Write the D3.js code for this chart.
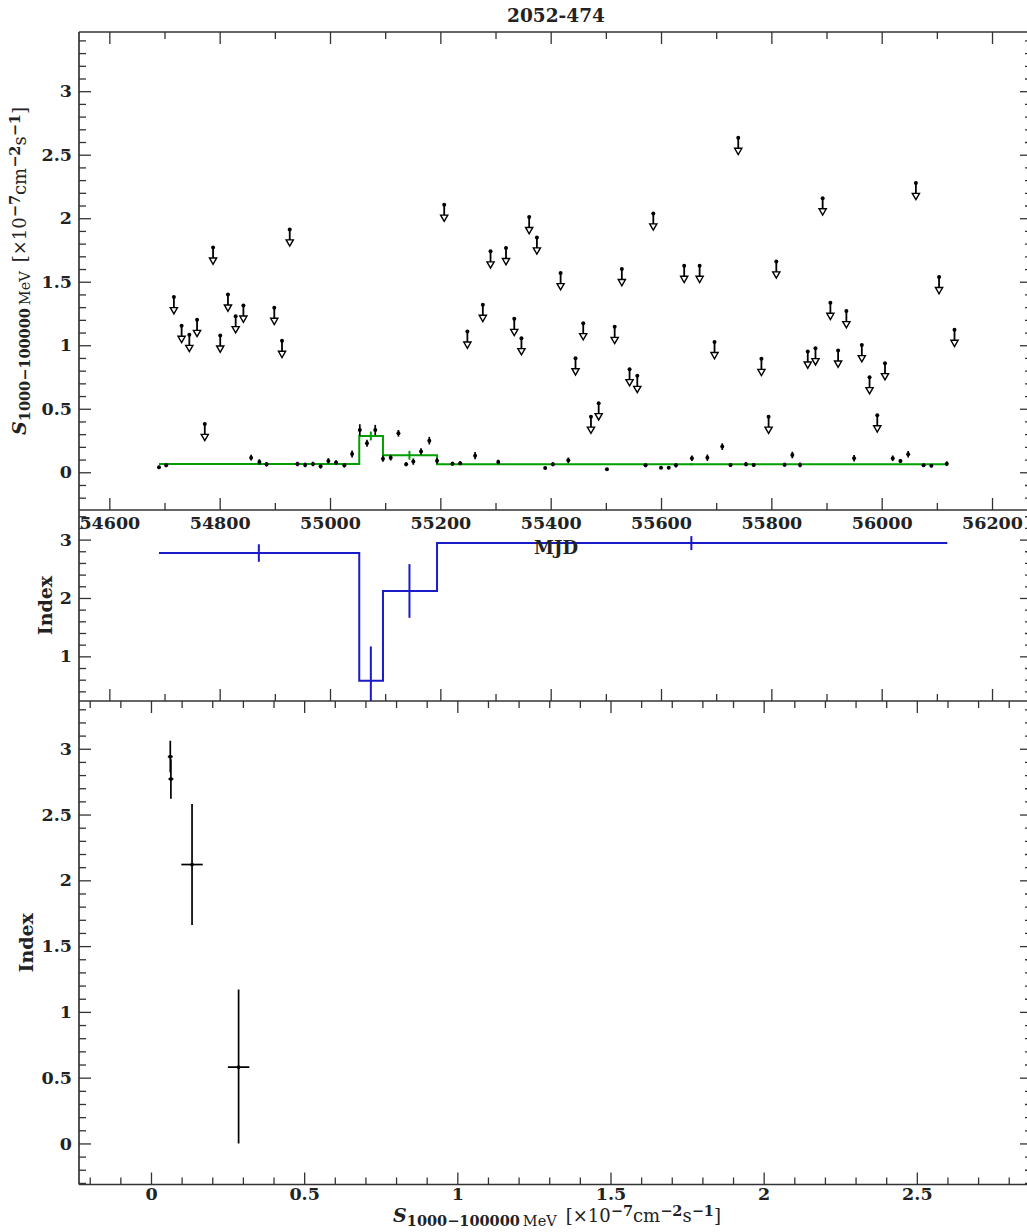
<!DOCTYPE html>
<html>
<head>
<meta charset="utf-8">
<script src="https://cdn.jsdelivr.net/npm/d3@7"></script>
<style>
  body { margin: 0; background: #fff; }
  svg { display: block; }
  text { font-family: "DejaVu Serif", serif; fill: #222; }
</style>
</head>
<body>
<svg id="chart" width="1027" height="1232"></svg>
<script>
// ---- Light curve, 14-day bins: detections (flux with error) ----
const detMJD = [54690, 54703, 54857, 54872, 54885, 54941, 54955, 54969, 54983, 54997,
  55011, 55026, 55040, 55054, 55067, 55082, 55096, 55110, 55124, 55138,
  55151, 55165, 55180, 55194, 55222, 55236, 55263, 55305, 55390, 55404,
  55432, 55502, 55572, 55600, 55614, 55627, 55656, 55684, 55711, 55726,
  55754, 55768, 55824, 55838, 55852, 55950, 56020, 56034, 56048, 56076,
  56090, 56118];
const detFlux = [0.039, 0.055, 0.115, 0.081, 0.063, 0.065, 0.058, 0.065, 0.047, 0.089,
  0.076, 0.055, 0.144, 0.333, 0.228, 0.333, 0.107, 0.115, 0.307, 0.063,
  0.084, 0.163, 0.249, 0.091, 0.068, 0.071, 0.131, 0.081, 0.034, 0.063,
  0.094, 0.024, 0.055, 0.036, 0.036, 0.055, 0.110, 0.115, 0.202, 0.058,
  0.063, 0.058, 0.060, 0.136, 0.058, 0.110, 0.110, 0.089, 0.142, 0.055,
  0.052, 0.068];
const detErr = [0.012, 0.015, 0.022, 0.022, 0.018, 0.018, 0.018, 0.018, 0.018, 0.022,
  0.018, 0.018, 0.028, 0.045, 0.028, 0.040, 0.025, 0.022, 0.026, 0.015,
  0.025, 0.026, 0.030, 0.022, 0.015, 0.015, 0.028, 0.018, 0.000, 0.015,
  0.022, 0.000, 0.015, 0.010, 0.010, 0.018, 0.022, 0.025, 0.026, 0.015,
  0.015, 0.015, 0.015, 0.026, 0.018, 0.025, 0.022, 0.015, 0.026, 0.012,
  0.012, 0.018];

// ---- Light curve: upper limits ----
const ulMJD = [54717, 54731, 54745, 54759, 54773, 54788, 54801, 54815, 54829, 54843,
  54899, 54913, 54927, 55207, 55249, 55277, 55291, 55319, 55334, 55347,
  55361, 55375, 55418, 55445, 55459, 55473, 55487, 55516, 55529, 55543,
  55557, 55586, 55642, 55670, 55697, 55740, 55782, 55795, 55809, 55866,
  55880, 55893, 55907, 55921, 55936, 55964, 55978, 55992, 56006, 56062,
  56104, 56132];
const ulFlux = [1.379, 1.153, 1.082, 1.200, 0.381, 1.770, 1.077, 1.400, 1.229, 1.313,
  1.295, 1.035, 1.912, 2.107, 1.108, 1.319, 1.739, 1.765, 1.208, 1.056,
  2.010, 1.849, 1.568, 0.898, 1.174, 0.438, 0.544, 1.145, 1.600, 0.812,
  0.759, 2.038, 1.626, 1.626, 1.025, 2.633, 0.893, 0.438, 1.660, 0.951,
  0.977, 2.157, 1.334, 0.959, 1.269, 1.001, 0.749, 0.449, 0.859, 2.278,
  1.537, 1.122];

// ---- Bayesian blocks ----
const blockStart = [54690, 55053, 55096, 55194];
const blockEnd = [55053, 55096, 55194, 56119];
const blockMid = [54871, 55074, 55144, 55655];
const blockFlux = [0.065, 0.286, 0.134, 0.063];
const blockFluxErr = [0.008, 0.035, 0.035, 0.008];
const blockIndex = [2.77, 0.58, 2.12, 2.94];
const blockIndexLo = [0.15, 0.58, 0.46, 0.12];
const blockIndexHi = [0.15, 0.59, 0.46, 0.12];

// ---- Tick labels ----
const mjdTicks = [54600, 54800, 55000, 55200, 55400, 55600, 55800, 56000, 56200];
const mjdMinor = [54700, 54900, 55100, 55300, 55500, 55700, 55900, 56100];
const fluxTicks = [0, 0.5, 1, 1.5, 2, 2.5, 3];
const midIndexTicks = [1, 2, 3];
const botIndexTicks = [0, 0.5, 1, 1.5, 2, 2.5, 3];
const botFluxTicks = [0, 0.5, 1, 1.5, 2, 2.5];

const title = "2052-474";

// ---- Layout ----
const L = 79, R = 1026.5, RF = 1027;
const P1 = { top: 32, bottom: 510 };
const P2 = { top: 510, bottom: 701 };
const P3 = { top: 701, bottom: 1184.5 };
const frameColor = "#333";
const tickFont = 17.5;

const svg = d3.select("#chart");

const xMJD = d3.scaleLinear().domain([54545, 56262.5]).range([L, R]);
const yFlux = d3.scaleLinear().domain([-0.297, 3.466]).range([P1.bottom, P1.top]);
const yIdxMid = d3.scaleLinear().domain([0.235, 3.507]).range([P2.bottom, P2.top]);
const yIdxBot = d3.scaleLinear().domain([-0.312, 3.363]).range([P3.bottom, P3.top]);
const xFluxBot = d3.scaleLinear().domain([-0.235, 2.858]).range([L, R]);

function minorsBetween(lo, hi, step, majors) {
  return d3.range(Math.round(lo / step), Math.round(hi / step) + 1)
    .map(k => +(k * step).toFixed(4))
    .filter(v => !majors.some(m => Math.abs(m - v) < 1e-6));
}

const fmt = d => String(d);

// generic inward-tick axis: major + minor ticks
function axis(maker, transform, scale, major, minor, majLen, minLen, labels, pad) {
  const gMaj = svg.append("g").attr("transform", transform)
    .call(maker(scale).tickValues(major).tickSize(-majLen).tickSizeOuter(0)
      .tickPadding(pad || 0).tickFormat(labels ? fmt : ""));
  gMaj.select(".domain").remove();
  gMaj.selectAll(".tick line").attr("stroke", frameColor).attr("stroke-width", 1.3);
  gMaj.selectAll(".tick text").attr("font-size", tickFont).attr("font-weight", "bold")
    .attr("font-family", "DejaVu Serif, serif").attr("fill", "#222");
  const gMin = svg.append("g").attr("transform", transform)
    .call(maker(scale).tickValues(minor).tickSize(-minLen).tickSizeOuter(0).tickFormat(""));
  gMin.select(".domain").remove();
  gMin.selectAll(".tick line").attr("stroke", frameColor).attr("stroke-width", 1.3);
  return gMaj;
}

// ---- Panel 1: flux vs MJD ----
const fluxMinor = minorsBetween(-0.2, 3.4, 0.1, fluxTicks);
axis(d3.axisLeft, `translate(${L},0)`, yFlux, fluxTicks, fluxMinor, 12, 7, true, 7);
axis(d3.axisRight, `translate(${RF},0)`, yFlux, fluxTicks, fluxMinor, 7, 2, false);
axis(d3.axisTop, `translate(0,${P1.top})`, xMJD, mjdTicks, mjdMinor, 12, 7, false);
axis(d3.axisBottom, `translate(0,${P1.bottom})`, xMJD, mjdTicks, mjdMinor, 12, 7, true, 7);

// ---- Panel 2: index vs MJD ----
const midMinor = minorsBetween(0.4, 3.4, 0.2, midIndexTicks);
axis(d3.axisLeft, `translate(${L},0)`, yIdxMid, midIndexTicks, midMinor, 12, 7, true, 7);
axis(d3.axisRight, `translate(${RF},0)`, yIdxMid, midIndexTicks, midMinor, 7, 2, false);
axis(d3.axisBottom, `translate(0,${P2.bottom})`, xMJD, mjdTicks, mjdMinor, 12, 7, false);

// ---- Panel 3: index vs flux ----
const botYMinor = minorsBetween(-0.3, 3.3, 0.1, botIndexTicks);
const botXMinor = minorsBetween(-0.2, 2.8, 0.1, botFluxTicks);
axis(d3.axisLeft, `translate(${L},0)`, yIdxBot, botIndexTicks, botYMinor, 12, 7, true, 7);
axis(d3.axisRight, `translate(${RF},0)`, yIdxBot, botIndexTicks, botYMinor, 7, 2, false);
axis(d3.axisTop, `translate(0,${P3.top})`, xFluxBot, botFluxTicks, botXMinor, 12, 7, false);
axis(d3.axisBottom, `translate(0,${P3.bottom})`, xFluxBot, botFluxTicks, botXMinor, 12, 7, true, 3);

// ---- Frame ----
const frame = svg.append("g").attr("stroke", frameColor).attr("stroke-width", 1.7);
frame.append("line").attr("x1", L).attr("x2", L).attr("y1", P1.top).attr("y2", P3.bottom);
[P1.top, P1.bottom, P2.bottom, P3.bottom].forEach(y =>
  frame.append("line").attr("x1", L).attr("x2", RF).attr("y1", y).attr("y2", y));

// clip regions
const defs = svg.append("defs");
[["c1", P1], ["c2", P2], ["c3", P3]].forEach(([id, p]) =>
  defs.append("clipPath").attr("id", id).append("rect")
    .attr("x", L).attr("y", p.top).attr("width", RF - L).attr("height", p.bottom - p.top));

// ---- Panel 1 marks ----
const g1 = svg.append("g").attr("clip-path", "url(#c1)");

// block step line (flux)
const fluxSteps = [];
blockStart.forEach((s, i) => { fluxSteps.push([s, blockFlux[i]], [blockEnd[i], blockFlux[i]]); });
g1.append("path").datum(fluxSteps)
  .attr("d", d3.line().x(d => xMJD(d[0])).y(d => yFlux(d[1])))
  .attr("fill", "none").attr("stroke", "#00a000").attr("stroke-width", 2);
g1.selectAll(".berr").data(blockMid).join("line")
  .attr("x1", d => xMJD(d)).attr("x2", d => xMJD(d))
  .attr("y1", (d, i) => yFlux(blockFlux[i] - blockFluxErr[i]))
  .attr("y2", (d, i) => yFlux(blockFlux[i] + blockFluxErr[i]))
  .attr("stroke", "#00a000").attr("stroke-width", 2);

// detections
g1.selectAll(".derr").data(detMJD).join("line")
  .attr("x1", d => xMJD(d)).attr("x2", d => xMJD(d))
  .attr("y1", (d, i) => yFlux(detFlux[i] - detErr[i]))
  .attr("y2", (d, i) => yFlux(detFlux[i] + detErr[i]))
  .attr("stroke", "#000").attr("stroke-width", 1.7);
g1.selectAll(".dpt").data(detMJD).join("circle")
  .attr("cx", d => xMJD(d)).attr("cy", (d, i) => yFlux(detFlux[i]))
  .attr("r", 2).attr("fill", "#000");

// upper limits: dot, shaft and open arrow head
const ul = g1.selectAll(".ul").data(ulMJD).join("g")
  .attr("transform", (d, i) => `translate(${xMJD(d)},${yFlux(ulFlux[i])})`);
ul.append("line").attr("x1", 0).attr("x2", 0).attr("y1", 0).attr("y2", 11)
  .attr("stroke", "#000").attr("stroke-width", 1.8);
ul.append("circle").attr("r", 2).attr("fill", "#000");
ul.append("path").attr("d", "M-3.6,10.5 L3.6,10.5 L0,16.8 Z")
  .attr("fill", "#fff").attr("stroke", "#000").attr("stroke-width", 1.4);

// ---- Panel 2 marks ----
const g2 = svg.append("g").attr("clip-path", "url(#c2)");
const idxSteps = [];
blockStart.forEach((s, i) => { idxSteps.push([s, blockIndex[i]], [blockEnd[i], blockIndex[i]]); });
g2.append("path").datum(idxSteps)
  .attr("d", d3.line().x(d => xMJD(d[0])).y(d => yIdxMid(d[1])))
  .attr("fill", "none").attr("stroke", "#1a1ac8").attr("stroke-width", 2);
g2.selectAll(".ierr").data(blockMid).join("line")
  .attr("x1", d => xMJD(d)).attr("x2", d => xMJD(d))
  .attr("y1", (d, i) => yIdxMid(blockIndex[i] - blockIndexLo[i]))
  .attr("y2", (d, i) => yIdxMid(blockIndex[i] + blockIndexHi[i]))
  .attr("stroke", "#1a1ac8").attr("stroke-width", 2);

// ---- Panel 3 marks ----
const g3 = svg.append("g").attr("clip-path", "url(#c3)");
g3.selectAll(".hx").data(blockFlux).join("line")
  .attr("x1", (d, i) => xFluxBot(d - blockFluxErr[i]))
  .attr("x2", (d, i) => xFluxBot(d + blockFluxErr[i]))
  .attr("y1", (d, i) => yIdxBot(blockIndex[i])).attr("y2", (d, i) => yIdxBot(blockIndex[i]))
  .attr("stroke", "#000").attr("stroke-width", 1.7);
g3.selectAll(".vy").data(blockFlux).join("line")
  .attr("x1", d => xFluxBot(d)).attr("x2", d => xFluxBot(d))
  .attr("y1", (d, i) => yIdxBot(blockIndex[i] - blockIndexLo[i]))
  .attr("y2", (d, i) => yIdxBot(blockIndex[i] + blockIndexHi[i]))
  .attr("stroke", "#000").attr("stroke-width", 1.7);
g3.selectAll(".pt").data(blockFlux).join("circle")
  .attr("cx", d => xFluxBot(d)).attr("cy", (d, i) => yIdxBot(blockIndex[i]))
  .attr("r", 1.9).attr("fill", "#000");

// ---- Texts ----
svg.append("text").attr("x", 556).attr("y", 22).attr("text-anchor", "middle")
  .attr("font-size", 18.5).attr("font-weight", "bold").text(title);

svg.append("text").attr("x", 556).attr("y", 554).attr("text-anchor", "middle")
  .attr("font-size", 18).attr("font-weight", "bold").text("MJD");

// S_{1000−100000 MeV} [×10^−7 cm^−2 s^−1]
function fluxLabel(t) {
  const sub = 14.5, main = 18;
  t.attr("font-size", main);
  t.append("tspan").attr("font-style", "italic").attr("font-weight", "bold").attr("font-size", 19).text("S");
  t.append("tspan").attr("font-size", sub).attr("font-weight", "bold").attr("dy", 3.5).text("1000−100000");
  t.append("tspan").attr("font-size", sub).attr("dx", 3).text("MeV");
  t.append("tspan").attr("dy", -3.5).attr("dx", 9).text("[×10");
  t.append("tspan").attr("font-size", sub).attr("font-weight", "bold").attr("dy", -6.5).text("−7");
  t.append("tspan").attr("dy", 6.5).text("cm");
  t.append("tspan").attr("font-size", sub).attr("font-weight", "bold").attr("dy", -6.5).text("−2");
  t.append("tspan").attr("dy", 6.5).text("s");
  t.append("tspan").attr("font-size", sub).attr("font-weight", "bold").attr("dy", -6.5).text("−1");
  t.append("tspan").attr("dy", 6.5).text("]");
}

svg.append("text").attr("text-anchor", "middle")
  .attr("transform", `translate(26,${(P1.top + P1.bottom) / 2}) rotate(-90)`)
  .call(fluxLabel);

svg.append("text").attr("text-anchor", "middle")
  .attr("transform", `translate(557,1222)`)
  .call(fluxLabel);

svg.append("text").attr("text-anchor", "middle").attr("font-size", 19).attr("font-weight", "bold")
  .attr("transform", `translate(52,${(P2.top + P2.bottom) / 2}) rotate(-90)`).text("Index");

svg.append("text").attr("text-anchor", "middle").attr("font-size", 19).attr("font-weight", "bold")
  .attr("transform", `translate(33,${(P3.top + P3.bottom) / 2}) rotate(-90)`).text("Index");
</script>
</body>
</html>
